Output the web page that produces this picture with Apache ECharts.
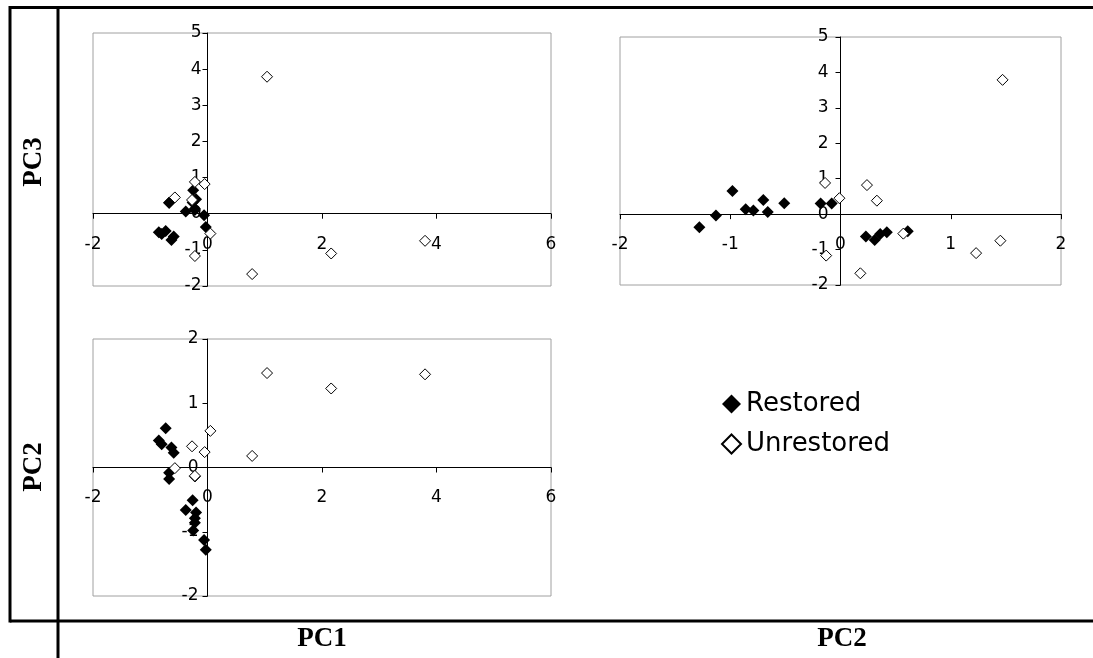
<!DOCTYPE html>
<html>
<head>
<meta charset="utf-8">
<script src="https://cdn.jsdelivr.net/npm/echarts@6/dist/echarts.min.js"></script>
<style>
html,body{margin:0;padding:0;background:#fff;}
#chart{width:1093px;height:658px;}
</style>
</head>
<body>
<div id="chart"></div>
<script>
// ---- data (principal component scores) ----
var restoredPC1 = [-0.03, -0.06, -0.25, -0.22, -0.22, -0.20, -0.38, -0.26, -0.67, -0.67, -0.59, -0.63, -0.80, -0.85, -0.73];
var restoredPC2 = [-1.28, -1.13, -0.98, -0.86, -0.79, -0.70, -0.66, -0.51, -0.18, -0.08, 0.23, 0.31, 0.36, 0.42, 0.61];
var restoredPC3 = [-0.37, -0.04, 0.65, 0.14, 0.10, 0.40, 0.06, 0.31, 0.30, 0.30, -0.63, -0.73, -0.56, -0.51, -0.48];

var unrestoredPC1 = [1.04, 3.80, 2.16, 0.05, -0.27, -0.05, -0.57, -0.22, -0.22, 0.78];
var unrestoredPC2 = [1.47, 1.45, 1.23, 0.57, 0.33, 0.24, -0.01, -0.14, -0.13, 0.18];
var unrestoredPC3 = [3.79, -0.75, -1.10, -0.55, 0.38, 0.82, 0.45, 0.88, -1.17, -1.67];

var seriesNames = ['Restored', 'Unrestored'];
var rowLabels = ['PC3', 'PC2'];
var colLabels = ['PC1', 'PC2'];

function zip(a, b) { return a.map(function (v, i) { return [v, b[i]]; }); }

var chart = echarts.init(document.getElementById('chart'), null, {renderer: 'canvas'});

var tickFont = {color: '#000', fontSize: 17, fontFamily: 'DejaVu Sans'};

// grid boxes (pixels)
var grids = [
  {left: 93, top: 33, width: 458, height: 253},
  {left: 620, top: 37, width: 441, height: 248},
  {left: 93, top: 339, width: 458, height: 257}
];
var xr = [[-2, 6, 2], [-2, 2, 1], [-2, 6, 2]];
var yr = [[-2, 5, 1], [-2, 5, 1], [-2, 2, 1]];
var yMargins = [6, 12, 9];

function mkX(idx) {
  var g = grids[idx], y = yr[idx];
  var zeroFromBottom = g.height * (0 - y[0]) / (y[1] - y[0]);
  return {
    type: 'value', gridIndex: idx, min: xr[idx][0], max: xr[idx][1], interval: xr[idx][2],
    position: 'bottom', offset: -zeroFromBottom,
    axisLine: {show: true, onZero: false, lineStyle: {color: '#000', width: 1}},
    axisTick: {show: true, inside: false, length: 5, lineStyle: {color: '#000'}},
    axisLabel: Object.assign({margin: 22}, tickFont),
    splitLine: {show: false}
  };
}
function mkY(idx) {
  var g = grids[idx], x = xr[idx];
  var zeroFromLeft = g.width * (0 - x[0]) / (x[1] - x[0]);
  return {
    type: 'value', gridIndex: idx, min: yr[idx][0], max: yr[idx][1], interval: yr[idx][2],
    position: 'left', offset: -zeroFromLeft,
    axisLine: {show: true, onZero: false, lineStyle: {color: '#000', width: 1}},
    axisTick: {show: true, inside: false, length: 5, lineStyle: {color: '#000'}},
    axisLabel: Object.assign({margin: yMargins[idx]}, tickFont),
    splitLine: {show: false}
  };
}

var restoredStyle = {symbol: 'diamond', symbolSize: 12, itemStyle: {color: '#000', borderWidth: 0, opacity: 1}};
var unrestoredStyle = {symbol: 'diamond', symbolSize: 11, itemStyle: {color: '#fff', borderColor: '#000', borderWidth: 1, opacity: 1}};

function mkSeries(name, idx, data, style) {
  return Object.assign({
    type: 'scatter', name: name, xAxisIndex: idx, yAxisIndex: idx, data: data,
    z: name === seriesNames[1] ? 3 : 2, silent: true
  }, JSON.parse(JSON.stringify(style)));
}

var gridBase = {show: true, borderColor: '#a0a0a0', borderWidth: 1, backgroundColor: 'transparent', containLabel: false, outerBoundsMode: 'none'};

var frame = {type: 'line', silent: true, style: {stroke: '#000', lineWidth: 3}};
function ln(x1, y1, x2, y2) { return Object.assign({}, frame, {shape: {x1: x1, y1: y1, x2: x2, y2: y2}}); }

var titleFont = {fill: '#000', font: 'bold 27px "Liberation Serif", "Times New Roman", serif', textAlign: 'center', textVerticalAlign: 'middle'};

var option = {
  backgroundColor: '#fff',
  animation: false,
  grid: grids.map(function (g) { return Object.assign({}, g, gridBase); }),
  xAxis: [mkX(0), mkX(1), mkX(2)],
  yAxis: [mkY(0), mkY(1), mkY(2)],
  legend: {
    data: seriesNames,
    orient: 'vertical', left: 721, top: 389, padding: 0,
    itemWidth: 19, itemHeight: 19, itemGap: 10,
    textStyle: {color: '#000', fontSize: 26, fontFamily: 'DejaVu Sans', lineHeight: 30},
    selectedMode: false
  },
  series: [
    mkSeries(seriesNames[0], 0, zip(restoredPC1, restoredPC3), restoredStyle),
    mkSeries(seriesNames[1], 0, zip(unrestoredPC1, unrestoredPC3), unrestoredStyle),
    mkSeries(seriesNames[0], 1, zip(restoredPC2, restoredPC3), restoredStyle),
    mkSeries(seriesNames[1], 1, zip(unrestoredPC2, unrestoredPC3), unrestoredStyle),
    mkSeries(seriesNames[0], 2, zip(restoredPC1, restoredPC2), restoredStyle),
    mkSeries(seriesNames[1], 2, zip(unrestoredPC1, unrestoredPC2), unrestoredStyle)
  ],
  graphic: [
    ln(10, 7.5, 1093, 7.5),
    ln(10, 621, 1093, 621),
    ln(10, 6, 10, 622.5),
    ln(58, 6, 58, 658),
    {type: 'text', x: 34, y: 162, rotation: Math.PI / 2, silent: true, style: Object.assign({text: rowLabels[0]}, titleFont)},
    {type: 'text', x: 34, y: 467, rotation: Math.PI / 2, silent: true, style: Object.assign({text: rowLabels[1]}, titleFont)},
    {type: 'text', x: 322, y: 639, silent: true, style: Object.assign({text: colLabels[0]}, titleFont)},
    {type: 'text', x: 842, y: 639, silent: true, style: Object.assign({text: colLabels[1]}, titleFont)}
  ]
};
chart.setOption(option);
</script>
</body>
</html>
